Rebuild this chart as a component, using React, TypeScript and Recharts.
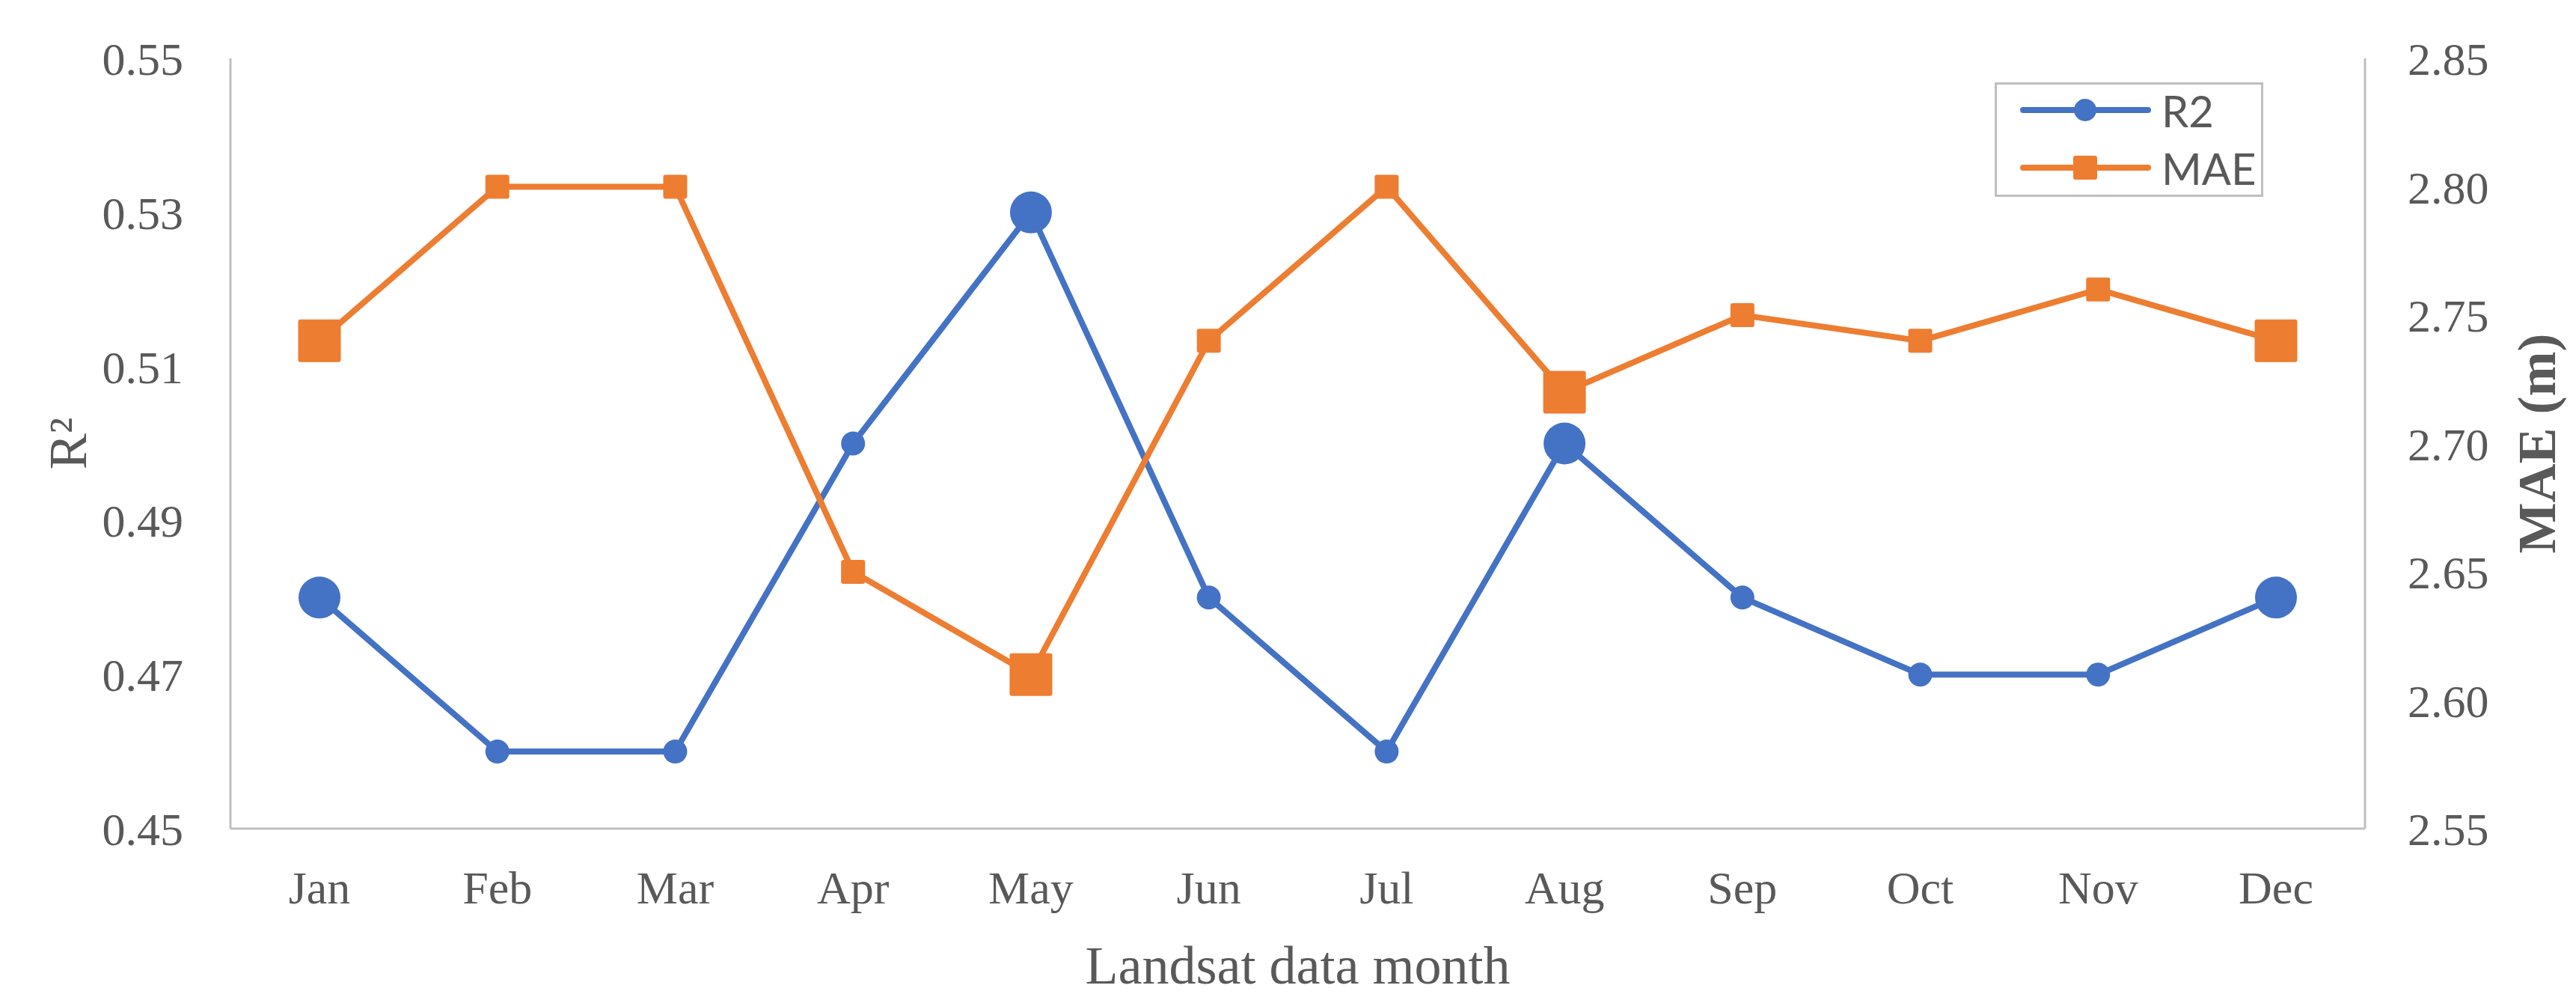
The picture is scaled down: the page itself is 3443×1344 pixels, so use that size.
import React from "react";
import { LineChart, Line, XAxis, YAxis, Legend } from "recharts";

const months = ["Jan", "Feb", "Mar", "Apr", "May", "Jun", "Jul", "Aug", "Sep", "Oct", "Nov", "Dec"];
const r2Values = [0.48, 0.46, 0.46, 0.5, 0.53, 0.48, 0.46, 0.5, 0.48, 0.47, 0.47, 0.48];
const maeValues = [2.74, 2.8, 2.8, 2.65, 2.61, 2.74, 2.8, 2.72, 2.75, 2.74, 2.76, 2.74];
// months drawn with the larger markers
const highlightMonths = ["Jan", "May", "Aug", "Dec"];
const r2Ticks = [0.45, 0.47, 0.49, 0.51, 0.53, 0.55];
const maeTicks = [2.55, 2.6, 2.65, 2.7, 2.75, 2.8, 2.85];

const BLUE = "#4472C4";
const ORANGE = "#ED7D31";
const TEXT = "#595959";
const BORDER = "#BFBFBF";
const SERIF = "'Liberation Serif', 'Times New Roman', serif";

const data = months.map((m, i) => ({ month: m, R2: r2Values[i], MAE: maeValues[i] }));

const tickStyle = { fontSize: 62, fill: TEXT, fontFamily: SERIF };

function CircleDot(props: any) {
  const { cx, cy, payload } = props;
  if (cx == null || cy == null) return null;
  const big = highlightMonths.includes(payload.month);
  return <circle key={payload.month} cx={cx} cy={cy} r={big ? 28 : 16} fill={BLUE} stroke="none" />;
}

function SquareDot(props: any) {
  const { cx, cy, payload } = props;
  if (cx == null || cy == null) return null;
  const s = highlightMonths.includes(payload.month) ? 57 : 32;
  return <rect key={payload.month} x={cx - s / 2} y={cy - s / 2} width={s} height={s} rx={3} fill={ORANGE} stroke="none" />;
}

function SideTitle(props: any) {
  const { viewBox, text, x, bold } = props;
  const cy = viewBox.y + viewBox.height / 2;
  return (
    <text
      x={x}
      y={cy}
      transform={`rotate(-90, ${x}, ${cy})`}
      textAnchor="middle"
      fill={TEXT}
      fontFamily={SERIF}
      fontSize={72}
      fontWeight={bold ? "bold" : "normal"}
    >
      {text}
    </text>
  );
}

function renderLegend() {
  const rows = [
    { name: "R2", color: BLUE, shape: "circle", y: 34 },
    { name: "MAE", color: ORANGE, shape: "square", y: 111 },
  ];
  return (
    <div style={{ width: 359, height: 153, border: `3px solid ${BORDER}`, boxSizing: "border-box", background: "#fff" }}>
      <svg width={353} height={147}>
        {rows.map((r) => (
          <g key={r.name}>
            <line x1={35} x2={202} y1={r.y} y2={r.y} stroke={r.color} strokeWidth={8} strokeLinecap="round" />
            {r.shape === "circle" ? (
              <circle cx={118} cy={r.y} r={15} fill={r.color} />
            ) : (
              <rect x={102} y={r.y - 16} width={32} height={32} rx={3} fill={r.color} />
            )}
            <text x={220} y={r.y} dominantBaseline="central" fontSize={58} fill={TEXT} fontFamily="Lato, 'Noto Sans', sans-serif">
              {r.name}
            </text>
          </g>
        ))}
      </svg>
    </div>
  );
}

export default function App() {
  return (
    <div style={{ width: 3427, height: 1336, position: "relative", background: "#fff" }}>
      <LineChart width={3427} height={1336} data={data} margin={{ top: 70, right: 0, bottom: 0, left: 0 }}>
        <XAxis
          dataKey="month"
          interval={0}
          height={237}
          padding={{ left: 119, right: 119 }}
          tickLine={false}
          tickSize={0}
          tickMargin={56}
          tick={tickStyle}
          axisLine={{ stroke: BORDER, strokeWidth: 3 }}
          label={{
            value: "Landsat data month",
            position: "insideBottom",
            offset: 30,
            fontSize: 72,
            fill: TEXT,
            fontFamily: SERIF,
          }}
        />
        <XAxis
          xAxisId="top"
          dataKey="month"
          orientation="top"
          height={0}
          tick={false}
          tickLine={false}
          axisLine={{ stroke: BORDER, strokeWidth: 3 }}
        />
        <YAxis
          yAxisId="left"
          width={300}
          domain={[0.45, 0.55]}
          ticks={r2Ticks}
          allowDataOverflow
          tickFormatter={(v: number) => v.toFixed(2)}
          tickLine={false}
          tickSize={0}
          tickMargin={63}
          tick={tickStyle}
          axisLine={{ stroke: BORDER, strokeWidth: 3 }}
          label={(p: any) => <SideTitle {...p} text="R²" x={107} />}
        />
        <YAxis
          yAxisId="right"
          orientation="right"
          width={274}
          domain={[2.55, 2.85]}
          ticks={maeTicks}
          allowDataOverflow
          tickFormatter={(v: number) => v.toFixed(2)}
          tickLine={false}
          tickSize={0}
          tickMargin={57}
          tick={{ ...tickStyle, textAnchor: "start" }}
          axisLine={{ stroke: BORDER, strokeWidth: 3 }}
          label={(p: any) => <SideTitle {...p} text="MAE (m)" x={3407} bold />}
        />
        <Legend
          content={renderLegend}
          layout="horizontal"
          verticalAlign="middle"
          align="center"
          wrapperStyle={{ position: "absolute", left: 2658, top: 102, width: 359, height: 153 }}
        />
        <Line
          yAxisId="left"
          dataKey="R2"
          name="R2"
          stroke={BLUE}
          strokeWidth={8}
          dot={CircleDot}
          activeDot={false}
          isAnimationActive={false}
        />
        <Line
          yAxisId="right"
          dataKey="MAE"
          name="MAE"
          stroke={ORANGE}
          strokeWidth={8}
          dot={SquareDot}
          activeDot={false}
          isAnimationActive={false}
        />
      </LineChart>
    </div>
  );
}
